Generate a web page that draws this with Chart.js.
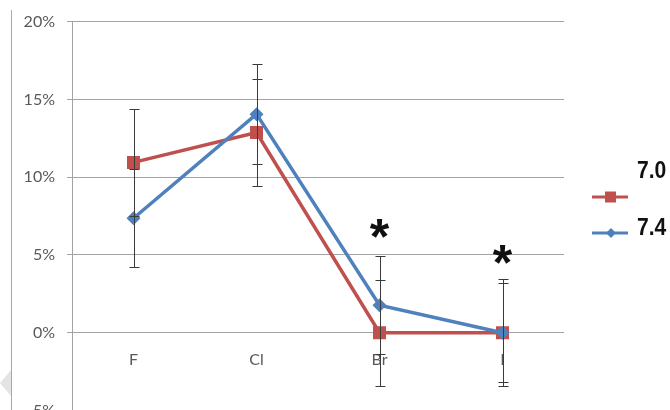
<!DOCTYPE html>
<html>
<head>
<meta charset="utf-8">
<script src="https://cdn.jsdelivr.net/npm/chart.js@4/dist/chart.umd.min.js"></script>
<style>
  html, body { margin: 0; padding: 0; background: #fff; overflow: hidden; width: 670px; height: 410px; }
  #wrap { position: relative; width: 670px; height: 410px; overflow: hidden; }
  #edge { position: absolute; left: 11px; top: 10px; width: 1px; height: 400px; background: #a8a8a8; }
  #notch { position: absolute; left: 0; top: 370px; width: 11px; height: 26px; background: #e4e4e4;
           clip-path: polygon(100% 0, 100% 100%, 0 50%); }
  canvas { position: absolute; left: 0; top: 0; }
</style>
</head>
<body>
<div id="wrap">
  <div id="edge"></div>
  <div id="notch"></div>
  <canvas id="c" width="670" height="440"></canvas>
</div>
<script>
// Halide series, percent values
const categories = ['F', 'Cl', 'Br', 'I'];
const seriesNames = ['7.0', '7.4'];
const values70 = [10.95, 12.87, 0, 0];
const errors70 = [3.45, 3.43, 3.42, 3.44];
const values74 = [7.36, 14.05, 1.77, 0];
const errors74 = [3.14, 3.2, 3.13, 3.2];
const yTicks = [-5, 0, 5, 10, 15, 20];
// significance markers
const sigCategories = ['Br', 'I'];
const sigLevels = [6.7, 5.05];

const RED = '#C0504D';
const BLUE = '#4F81BD';
const GRID = '#a3a3a3';
const TEXT = '#595959';

// symmetric error bars drawn on top of the series
const errorBars = {
  id: 'errorBars',
  afterDatasetsDraw(chart) {
    const { ctx, scales: { x, y } } = chart;
    const sets = [
      { vals: values70, errs: errors70 },
      { vals: values74, errs: errors74 }
    ];
    ctx.save();
    ctx.strokeStyle = '#3a3a3a';
    ctx.lineWidth = 1;
    sets.forEach(s => {
      s.vals.forEach((v, i) => {
        const px = Math.round(x.getPixelForValue(i)) + 0.5;
        const top = Math.round(y.getPixelForValue(v + s.errs[i])) + 0.5;
        const bot = Math.round(y.getPixelForValue(v - s.errs[i])) + 0.5;
        ctx.beginPath();
        ctx.moveTo(px, top); ctx.lineTo(px, bot);
        ctx.moveTo(px - 5, top); ctx.lineTo(px + 5, top);
        ctx.moveTo(px - 5, bot); ctx.lineTo(px + 5, bot);
        ctx.stroke();
      });
    });
    ctx.restore();
  }
};

// asterisks over significantly different categories
const sigMarks = {
  id: 'sigMarks',
  afterDatasetsDraw(chart) {
    const { ctx, scales: { x, y } } = chart;
    ctx.save();
    ctx.fillStyle = '#111';
    ctx.font = 'bold 50px "Liberation Sans", Arial, sans-serif';
    ctx.textAlign = 'center';
    ctx.textBaseline = 'alphabetic';
    const m = ctx.measureText('*');
    const mid = (m.actualBoundingBoxAscent - m.actualBoundingBoxDescent) / 2;
    sigCategories.forEach((c, i) => {
      const px = x.getPixelForValue(categories.indexOf(c));
      const py = y.getPixelForValue(sigLevels[i]);
      ctx.fillText('*', px, py + mid);
    });
    ctx.restore();
  }
};

// legend at the right: label above-right of each line sample
const sideLegend = {
  id: 'sideLegend',
  afterDraw(chart) {
    const { ctx } = chart;
    const items = [
      { label: seriesNames[0], color: RED, style: 'square', lineY: 197, textY: 178 },
      { label: seriesNames[1], color: BLUE, style: 'diamond', lineY: 233, textY: 235 }
    ];
    ctx.save();
    items.forEach(it => {
      ctx.strokeStyle = it.color;
      ctx.fillStyle = it.color;
      ctx.lineWidth = 3;
      ctx.beginPath();
      ctx.moveTo(592, it.lineY); ctx.lineTo(628, it.lineY);
      ctx.stroke();
      ctx.beginPath();
      if (it.style === 'square') {
        ctx.rect(605, it.lineY - 5.5, 11, 11);
      } else {
        ctx.moveTo(611, it.lineY - 5); ctx.lineTo(616, it.lineY);
        ctx.lineTo(611, it.lineY + 5); ctx.lineTo(606, it.lineY);
        ctx.closePath();
      }
      ctx.fill();
      // condensed bold label
      ctx.save();
      ctx.translate(637, it.textY);
      ctx.scale(0.88, 1);
      ctx.fillStyle = '#111';
      ctx.font = 'bold 24px "Liberation Sans", Arial, sans-serif';
      ctx.textAlign = 'left';
      ctx.textBaseline = 'alphabetic';
      ctx.fillText(it.label, 0, 0);
      ctx.restore();
    });
    ctx.restore();
  }
};

new Chart(document.getElementById('c'), {
  type: 'line',
  data: {
    labels: categories,
    datasets: [
      {
        label: seriesNames[0],
        data: values70,
        borderColor: RED,
        backgroundColor: RED,
        borderWidth: 3.5,
        pointStyle: 'rect',
        pointRadius: 9.2,
        pointBorderWidth: 0,
        pointBackgroundColor: RED,
        tension: 0,
        order: 1
      },
      {
        label: seriesNames[1],
        data: values74,
        borderColor: BLUE,
        backgroundColor: BLUE,
        borderWidth: 3.5,
        pointStyle: 'rectRot',
        pointRadius: 7,
        pointBorderWidth: 0,
        pointBackgroundColor: BLUE,
        tension: 0,
        order: 0
      }
    ]
  },
  options: {
    responsive: false,
    animation: false,
    devicePixelRatio: 1,
    layout: { padding: { top: 20, left: 0, right: 106, bottom: 29.5 } },
    plugins: {
      legend: { display: false },
      tooltip: { enabled: false },
      title: { display: false }
    },
    scales: {
      x: {
        type: 'category',
        offset: true,
        position: { y: 0 },
        grid: { display: false, drawTicks: false },
        border: { display: false },
        ticks: {
          color: TEXT,
          font: { family: 'Lato', size: 16 },
          padding: 18,
          maxRotation: 0
        },
        afterFit(scale) { scale.height = 0; }
      },
      y: {
        min: -5,
        max: 20,
        grid: { color: GRID, lineWidth: 1, tickLength: 5, drawTicks: true },
        border: { display: true, color: GRID, width: 1 },
        afterBuildTicks(scale) { scale.ticks = yTicks.map(v => ({ value: v })); },
        ticks: {
          color: TEXT,
          font: { family: 'Lato', size: 16 },
          padding: 12,
          callback: v => v + '%'
        },
        afterFit(scale) { scale.width = 72; }
      }
    }
  },
  plugins: [errorBars, sigMarks, sideLegend]
});
</script>
</body>
</html>
